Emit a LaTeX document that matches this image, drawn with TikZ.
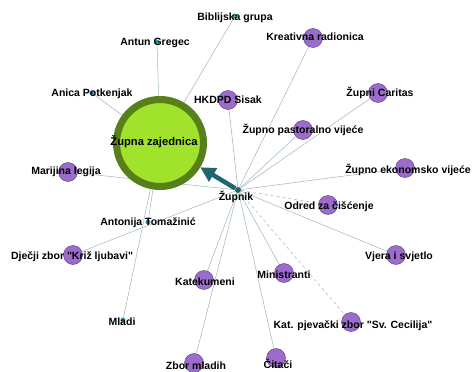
\documentclass[tikz,border=0pt]{standalone}
\usepackage{fontspec}
\setmainfont{Liberation Sans}
\usetikzlibrary{arrows.meta,backgrounds}
\definecolor{ljub}{RGB}{155,108,204}
\definecolor{ljubrub}{RGB}{88,58,120}
\definecolor{limeg}{RGB}{160,226,44}
\definecolor{tamnog}{RGB}{88,128,26}
\definecolor{tirk}{RGB}{30,102,112}
\definecolor{tirksv}{RGB}{44,158,168}
\definecolor{rubcol}{RGB}{160,182,182}
\tikzset{
    grupa/.style={circle,draw=ljubrub,fill=ljub,thin,minimum size=19pt,inner sep=0pt},
    osoba/.style={circle,fill=tirksv,minimum size=5pt,inner sep=0pt},
    natpis/.style={font=\bfseries\fontsize{10.5}{12}\selectfont,inner sep=0pt},
    veza/.style={rubcol,line width=0.5pt},
}
\begin{document}
\begin{tikzpicture}[x=1pt,y=-1pt]
    \useasboundingbox (0,0) rectangle (472,372);
    \node[circle,draw=tamnog,line width=7pt,fill=limeg,minimum size=87pt,inner sep=0pt] (zajednica) at (160,143) {};
    \node[natpis,font=\bfseries\fontsize{11.2}{13}\selectfont] (zajednica-t) at (154,142) {Župna zajednica};
    \node[osoba,fill=tirk,minimum size=6pt] (zupnik) at (238,190) {};
    \node[natpis] (zupnik-t) at (236,197) {Župnik};
    \foreach \ime/\x/\y/\lx/\ly/\txt in {
        kreativna/313/38/315/37/{Kreativna radionica},
        caritas/378/93/380/93/{Župni Caritas},
        pastoralno/303/130/303/130/{Župno pastoralno vijeće},
        ekonomsko/405/168/408/170/{Župno ekonomsko vijeće},
        hkdpd/228/100/228/100/{HKDPD Sisak},
        legija/68/172/66/172/{Marijina legija},
        djecji/73/255/72/257/{Dječji zbor \textquotedbl Križ ljubavi\textquotedbl},
        katekumeni/204/280/205/282/{Katekumeni},
        zbormladih/194/363/196/366/{Zbor mladih},
        ministranti/284/273/284/275/{Ministranti},
        odred/328/205/329/207/{Odred za čišćenje},
        vjera/396/255/399/257/{Vjera i svjetlo},
        cecilija/351/322/353/326/{Kat. pjevački zbor \textquotedbl Sv. Cecilija\textquotedbl},
        citaci/276/358/278/364/{Čitači}} {
        \node[grupa] (\ime) at (\x,\y) {};
        \node[natpis] (\ime-t) at (\lx,\ly) {\txt};
    }
    \foreach \ime/\x/\y/\lx/\ly/\txt in {
        biblijska/235/16/235/18/{Biblijska grupa},
        gregec/157/42/155/43/{Antun Gregec},
        potkenjak/92/93/92/94/{Anica Potkenjak},
        tomazinic/148/222/148/223/{Antonija Tomažinić},
        mladi/123/320/122/322/{Mladi}} {
        \node[osoba] (\ime) at (\x,\y) {};
        \node[natpis] (\ime-t) at (\lx,\ly) {\txt};
    }
    \begin{pgfonlayer}{background}
        \fill[white] (0,0) rectangle (472,372);
        \foreach \n in {biblijska,gregec,potkenjak,tomazinic,mladi}
            \draw[veza] (zajednica) -- (\n);
        \foreach \n in {kreativna,caritas,pastoralno,ekonomsko,hkdpd,legija,djecji,katekumeni,zbormladih,ministranti,vjera,citaci}
            \draw[veza] (zupnik) -- (\n);
        \foreach \n in {odred,cecilija}
            \draw[veza,dashed] (zupnik) -- (\n);
    \end{pgfonlayer}
    \draw[tirk,line width=4.5pt,-{Triangle[length=15pt,width=15pt]}] (zupnik) -- (zajednica);
\end{tikzpicture}
\end{document}
